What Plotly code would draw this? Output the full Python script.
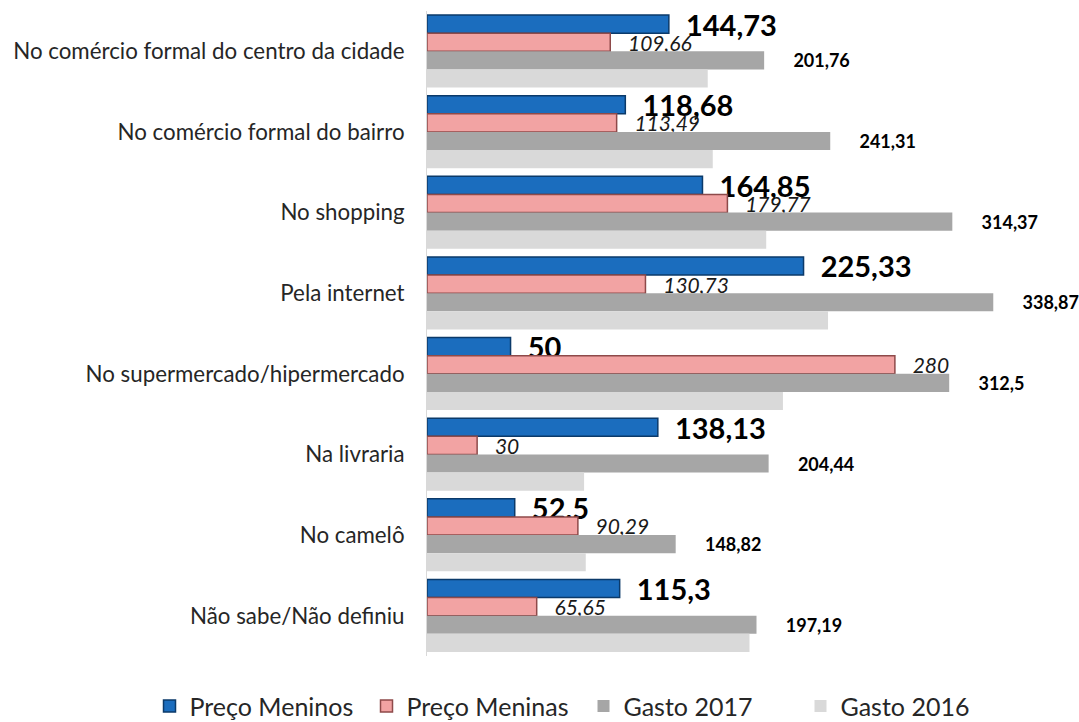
import plotly.graph_objects as go

categories = [
    "No comércio formal do centro da cidade",
    "No comércio formal do bairro",
    "No shopping",
    "Pela internet",
    "No supermercado/hipermercado",
    "Na livraria",
    "No camelô",
    "Não sabe/Não definiu",
]
preco_meninos = [144.73, 118.68, 164.85, 225.33, 50, 138.13, 52.5, 115.3]
preco_meninas = [109.66, 113.49, 179.77, 130.73, 280, 30, 90.29, 65.65]
gasto_2017 = [201.76, 241.31, 314.37, 338.87, 312.5, 204.44, 148.82, 197.19]
gasto_2016 = [168, 171, 203, 240, 213, 94, 95, 193]


def fmt(v):
    return f"{v:g}".replace(".", ",")


NB = "\u00a0"
FONT = "Lato, 'Open Sans', sans-serif"

fig = go.Figure()
fig.add_trace(go.Bar(
    name="Preço Meninos", y=categories, x=preco_meninos, orientation="h",
    marker=dict(color="#1B6DBE", line=dict(color="#0B3A6A", width=1.5)),
    text=[NB * 2 + fmt(v) for v in preco_meninos], textposition="outside",
    textfont=dict(family=FONT, size=29, color="#000000", weight="bold"),
    constraintext="none", cliponaxis=False,
))
fig.add_trace(go.Bar(
    name="Preço Meninas", y=categories, x=preco_meninas, orientation="h",
    marker=dict(color="#F2A3A3", line=dict(color="#8E4A4A", width=1.5)),
    text=[NB * 3 + fmt(v) for v in preco_meninas], textposition="outside",
    textfont=dict(family=FONT, size=21, color="#1a1a1a", style="italic"),
    constraintext="none", cliponaxis=False,
))
fig.add_trace(go.Bar(
    name="Gasto 2017", y=categories, x=gasto_2017, orientation="h",
    marker=dict(color="#A6A6A6", line=dict(width=0)),
    text=[NB * 6 + fmt(v) for v in gasto_2017], textposition="outside",
    textfont=dict(family=FONT, size=18, color="#000000", weight="bold"),
    constraintext="none", cliponaxis=False,
))
fig.add_trace(go.Bar(
    name="Gasto 2016", y=categories, x=gasto_2016, orientation="h",
    marker=dict(color="#D9D9D9", line=dict(width=0)),
    cliponaxis=False,
))

fig.update_layout(
    width=1079, height=722,
    barmode="group", bargap=0.1, bargroupgap=0,
    plot_bgcolor="white", paper_bgcolor="white",
    margin=dict(l=427, r=17, t=11, b=66, autoexpand=False),
    font=dict(family=FONT, color="#262626"),
    xaxis=dict(range=[0, 380], visible=False, showgrid=False, zeroline=False),
    yaxis=dict(autorange="reversed", showgrid=False, ticks="", automargin=False,
               showline=True, linecolor="#D9D9D9", linewidth=1,
               tickfont=dict(family=FONT, size=22.3, color="#262626"),
               ticklabelstandoff=17),
    legend=dict(orientation="h", x=-0.437, xanchor="left",
                y=-0.078, yanchor="middle",
                font=dict(family=FONT, size=25, color="#262626"),
                itemwidth=30, entrywidth=172, entrywidthmode="pixels",
                traceorder="normal"),
    showlegend=True,
)

fig.write_html("out.html", config={"displayModeBar": False},
               post_script="document.body.style.margin='0px';")
